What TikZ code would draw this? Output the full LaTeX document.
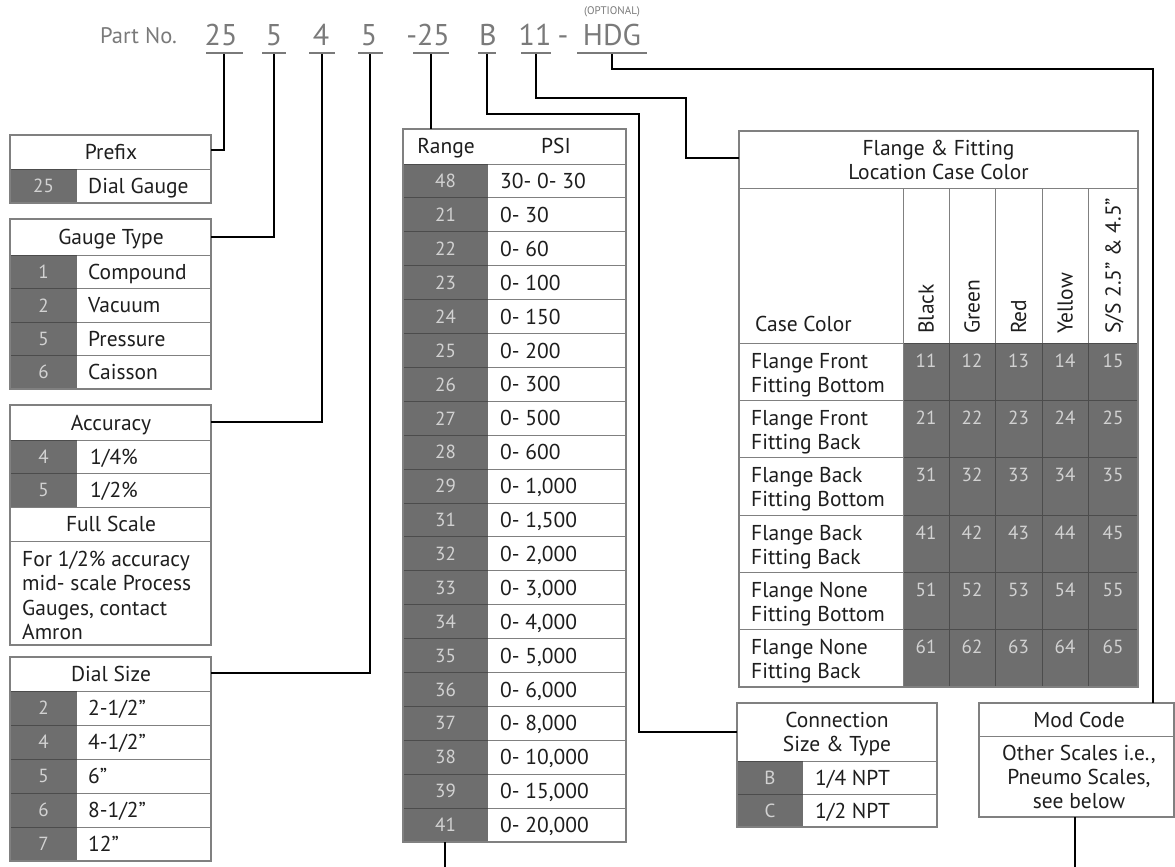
\documentclass[tikz,border=0pt]{standalone}
\usepackage{fontspec}
\setmainfont{PT Sans}
\usetikzlibrary{calc}
\definecolor{cellgray}{HTML}{6E6E6E}
\definecolor{celltext}{HTML}{D2D2D2}
\definecolor{boxline}{HTML}{808080}
\definecolor{sepdark}{HTML}{4C4C4C}
\definecolor{partgray}{HTML}{7A7A7A}
\definecolor{ink}{HTML}{1E1E1E}
\newcommand{\bodyfont}{\fontsize{21.5}{24}\selectfont}
\newcommand{\numfont}{\fontsize{19}{22}\selectfont}
% left-column row: #1 name, #2 top, #3 height, #4 number, #5 label, #6 label x
\newcommand{\leftrow}[6]{%
  \node[darkcell, minimum width=67pt, minimum height=#3pt] (#1n) at (10,#2) {#4};
  \draw[sepd] (10,#2) -- (77,#2);
  \draw[sep] (77,#2) -- (211,#2);
  \node[lbl] (#1l) at (#6,{#2+#3/2}) {#5};
}
% range row: #1 index, #2 number, #3 value
\newcommand{\rangerow}[3]{%
  \node[darkcell, minimum width=85pt, minimum height=33.9pt] (rn#1) at (403,{164+33.9*#1}) {#2};
  \draw[sepd] (403,{164+33.9*#1}) -- (488,{164+33.9*#1});
  \draw[sep] (488,{164+33.9*#1}) -- (626,{164+33.9*#1});
  \node[lbl] (rv#1) at (500,{164+33.9*#1+17}) {#3};
}
% flange row: #1 index, #2 top, #3 label (2 lines), #4..#8 numbers
\newcommand{\flangerow}[8]{%
  \draw[sepd] (903,#2) -- (1138,#2);
  \draw[sep] (739,#2) -- (903,#2);
  \node[lbl, align=left] (fl#1) at (751,{#2+41.5}) {#3};
  \node[darknum] (fa#1) at (926,{#2+17.5}) {#4};
  \node[darknum] (fb#1) at (972,{#2+17.5}) {#5};
  \node[darknum] (fc#1) at (1018.5,{#2+17.5}) {#6};
  \node[darknum] (fd#1) at (1065,{#2+17.5}) {#7};
  \node[darknum] (fe#1) at (1113,{#2+17.5}) {#8};
}
\begin{document}
\begin{tikzpicture}[x=1pt,y=-1pt,
  frame/.style={draw=boxline, line width=1.1pt, inner sep=0pt, outer sep=0pt, anchor=north west, fill=none},
  darkcell/.style={fill=cellgray, draw=none, inner sep=0pt, outer sep=0pt, anchor=north west, text=celltext, font=\numfont},
  darknum/.style={inner sep=0pt, anchor=center, text=celltext, font=\numfont, text height=13pt, text depth=0pt},
  lbl/.style={inner sep=0pt, anchor=west, text=ink, font=\bodyfont, text height=15pt, text depth=0pt},
  ctr/.style={inner sep=0pt, anchor=center, text=ink, font=\bodyfont, align=center, text height=15pt, text depth=0pt},
  sep/.style={draw=boxline, line width=1pt},
  sepd/.style={draw=sepdark, line width=1pt},
  conn/.style={draw=black, line width=1.8pt},
  digit/.style={inner sep=0pt, anchor=base, text=partgray, font=\fontsize{30}{30}\selectfont},
  uline/.style={fill=partgray, draw=none, inner sep=0pt, outer sep=0pt, minimum height=2.2pt}
]
\useasboundingbox (0,0) rectangle (1175,867);
\fill[white] (0,0) rectangle (1175,867);

% ---------------- part number ----------------
\node[inner sep=0pt, anchor=base west, text=partgray, font=\fontsize{22.5}{22.5}\selectfont] (partno) at (100,44) {Part No.};
\node[inner sep=0pt, anchor=center, text=partgray, font=\fontsize{11}{11}\selectfont] (optional) at (612,12) {(OPTIONAL)};
\node[digit] (d25) at (221,46) {25};
\node[digit] (d5a) at (274,46) {5};
\node[digit] (d4) at (321,46) {4};
\node[digit] (d5b) at (369,46) {5};
\node[digit, anchor=base east] (d25b) at (450,46) {-25};
\node[digit] (dB) at (488,46) {B};
\node[digit] (d11) at (535,46) {11};
\node[digit] (dash) at (563,46) {-};
\node[digit] (dHDG) at (612,46) {HDG};
\node[uline, minimum width=37pt] (u25) at (224,53) {};
\node[uline, minimum width=24pt] (u5a) at (274,53) {};
\node[uline, minimum width=26pt] (u4) at (322,53) {};
\node[uline, minimum width=25pt] (u5b) at (370,53) {};
\node[uline, minimum width=36pt] (u25b) at (431,53) {};
\node[uline, minimum width=18pt] (uB) at (487,53) {};
\node[uline, minimum width=30pt] (u11) at (536,53) {};
\node[uline, minimum width=70pt] (uHDG) at (612,53) {};

% ---------------- Prefix ----------------
\leftrow{pre}{169}{34}{25}{Dial Gauge}{88}
\node[frame, minimum width=201pt, minimum height=68pt] (prefix) at (10,135) {};
\node[ctr] (preT) at (111,152) {Prefix};

% ---------------- Gauge Type ----------------
\leftrow{ga}{255}{33.5}{1}{Compound}{88}
\leftrow{gb}{288.5}{33.5}{2}{Vacuum}{88}
\leftrow{gc}{322}{33.5}{5}{Pressure}{88}
\leftrow{gd}{355.5}{33.5}{6}{Caisson}{88}
\node[frame, minimum width=201pt, minimum height=170pt] (gauge) at (10,219) {};
\node[ctr] (gaugeT) at (111,237) {Gauge Type};

% ---------------- Accuracy ----------------
\leftrow{aa}{440}{33.5}{4}{1/4\%}{90}
\leftrow{ab}{473.5}{33.5}{5}{1/2\%}{90}
\draw[sep] (10,507) -- (211,507);
\node[ctr] (fullscale) at (111,524) {Full Scale};
\draw[sep] (10,541) -- (211,541);
\node[lbl, align=left, font=\fontsize{21.5}{24.5}\selectfont] (accnote) at (22,632) {For 1/2\% accuracy\\mid- scale Process\\Gauges, contact\\Amron};
\node[frame, minimum width=201pt, minimum height=240pt] (accuracy) at (10,405) {};
\node[ctr] (accT) at (111,422.5) {Accuracy};

% ---------------- Dial Size ----------------
\leftrow{da}{691}{34}{2}{2-1/2”}{88}
\leftrow{db}{725}{34}{4}{4-1/2”}{88}
\leftrow{dc}{759}{34}{5}{6”}{88}
\leftrow{dd}{793}{34}{6}{8-1/2”}{88}
\leftrow{de}{827}{34}{7}{12”}{88}
\node[frame, minimum width=201pt, minimum height=204pt] (dial) at (10,657) {};
\node[ctr] (dialT) at (111,674) {Dial Size};

% ---------------- Range ----------------
\rangerow{0}{48}{30- 0- 30}
\rangerow{1}{21}{0- 30}
\rangerow{2}{22}{0- 60}
\rangerow{3}{23}{0- 100}
\rangerow{4}{24}{0- 150}
\rangerow{5}{25}{0- 200}
\rangerow{6}{26}{0- 300}
\rangerow{7}{27}{0- 500}
\rangerow{8}{28}{0- 600}
\rangerow{9}{29}{0- 1,000}
\rangerow{10}{31}{0- 1,500}
\rangerow{11}{32}{0- 2,000}
\rangerow{12}{33}{0- 3,000}
\rangerow{13}{34}{0- 4,000}
\rangerow{14}{35}{0- 5,000}
\rangerow{15}{36}{0- 6,000}
\rangerow{16}{37}{0- 8,000}
\rangerow{17}{38}{0- 10,000}
\rangerow{18}{39}{0- 15,000}
\rangerow{19}{41}{0- 20,000}
\node[frame, minimum width=223pt, minimum height=713pt] (range) at (403,129) {};
\node[ctr] (rangeH) at (446,146) {Range};
\node[ctr] (psiH) at (556,146) {PSI};

% ---------------- Flange table ----------------
\node[fill=cellgray, draw=none, inner sep=0pt, outer sep=0pt, anchor=north west, minimum width=235pt, minimum height=344pt] (fdark) at (903,343) {};
\flangerow{1}{343}{Flange Front\\Fitting Bottom}{11}{12}{13}{14}{15}
\flangerow{2}{400.3}{Flange Front\\Fitting Back}{21}{22}{23}{24}{25}
\flangerow{3}{457.7}{Flange Back\\Fitting Bottom}{31}{32}{33}{34}{35}
\flangerow{4}{515}{Flange Back\\Fitting Back}{41}{42}{43}{44}{45}
\flangerow{5}{572.3}{Flange None\\Fitting Bottom}{51}{52}{53}{54}{55}
\flangerow{6}{629.7}{Flange None\\Fitting Back}{61}{62}{63}{64}{65}
\foreach \cx in {949,995,1042,1088} {
  \draw[sep] (\cx,188) -- (\cx,343);
  \draw[sepd] (\cx,343) -- (\cx,687);
}
\draw[sep] (903,188) -- (903,687);
\draw[sep] (739,188) -- (1138,188);
\node[frame, minimum width=399pt, minimum height=556pt] (flange) at (739,131) {};
\node[ctr] (flangeT) at (938.5,172) {Flange \& Fitting\\Location Case Color};
\node[lbl] (casecolor) at (755,324) {Case Color};
\node[lbl, rotate=90] (hBlack) at (926,334) {Black};
\node[lbl, rotate=90] (hGreen) at (972,334) {Green};
\node[lbl, rotate=90] (hRed) at (1018.5,334) {Red};
\node[lbl, rotate=90] (hYellow) at (1065,334) {Yellow};
\node[lbl, rotate=90] (hSS) at (1113,334) {S/S 2.5” \& 4.5”};

% ---------------- Connection ----------------
\node[darkcell, minimum width=66pt, minimum height=33pt] (cB) at (737,761) {B};
\node[darkcell, minimum width=66pt, minimum height=33pt] (cC) at (737,794) {C};
\draw[sepd] (737,761) -- (803,761);
\draw[sep] (803,761) -- (937,761);
\draw[sepd] (737,794) -- (803,794);
\draw[sep] (803,794) -- (937,794);
\node[lbl] (cBl) at (815,777.5) {1/4 NPT};
\node[lbl] (cCl) at (815,810.5) {1/2 NPT};
\node[frame, minimum width=200pt, minimum height=124pt] (connbox) at (737,703) {};
\node[ctr] (connT) at (837,744) {Connection\\Size \& Type};

% ---------------- Mod Code ----------------
\draw[sep] (979,736) -- (1174,736);
\node[frame, minimum width=195pt, minimum height=114pt] (modbox) at (979,703) {};
\node[ctr] (modT) at (1079,720) {Mod Code};
\node[ctr] (modB) at (1079,801) {Other Scales i.e.,\\Pneumo Scales,\\see below};

% ---------------- connectors ----------------
\coordinate (bendB) at (639,114);
\coordinate (bend11) at (686,98);
\coordinate (bendH) at (1153,69);
\coordinate (rangeEnd) at (445,867);
\coordinate (modEnd) at (1075,867);
\draw[conn] (u25.south) |- ($(prefix.north east)+(0,15)$);
\draw[conn] (u5a.south) |- ($(gauge.north east)+(0,18)$);
\draw[conn] (u4.south) |- ($(accuracy.north east)+(0,17)$);
\draw[conn] (u5b.south) |- ($(dial.north east)+(0,16)$);
\draw[conn] (u25b.south) -- (u25b.south |- range.north);
\draw[conn] (uB.south) |- (bendB) |- ($(connbox.north west)+(0,29)$);
\draw[conn] (u11.south) |- (bend11) |- ($(flange.north west)+(0,27)$);
\draw[conn] (uHDG.south) |- (bendH) -- (bendH |- modbox.north);
\draw[conn] (range.south -| rangeEnd) -- (rangeEnd);
\draw[conn] (modbox.south -| modEnd) -- (modEnd);
\end{tikzpicture}
\end{document}
